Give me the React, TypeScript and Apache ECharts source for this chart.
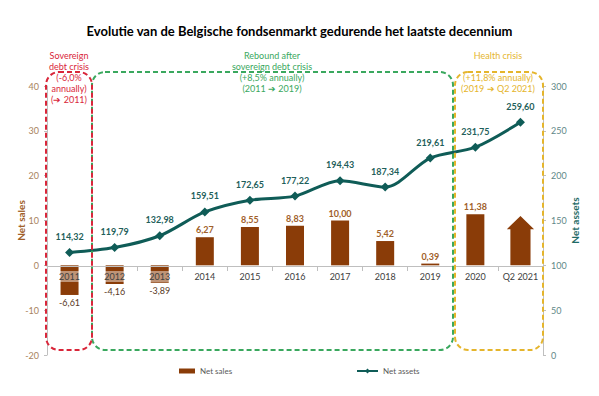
import React, { useEffect, useRef } from "react";
import * as echarts from "echarts";

const categories = ["2011", "2012", "2013", "2014", "2015", "2016", "2017", "2018", "2019", "2020", "Q2 2021"];
const netSales: (number | null)[] = [-6.61, -4.16, -3.89, 6.27, 8.55, 8.83, 10.0, 5.42, 0.39, 11.38, null];
const arrowSales: (number | null)[] = [null, null, null, null, null, null, null, null, null, null, 11.0];
const netAssets = [114.32, 119.79, 132.98, 159.51, 172.65, 177.22, 194.43, 187.34, 219.61, 231.75, 259.6];

const FONT = "Lato, 'Open Sans', sans-serif";
const fmt = (v: number) => v.toFixed(2).replace(".", ",");

export default function App() {
  const ref = useRef<HTMLDivElement>(null);
  useEffect(() => {
    if (!ref.current) return;
    const chart = echarts.init(ref.current, null, { renderer: "svg" });
    const brown = "#8a3c08";
    const teal = "#0f5c57";
    const red = "#d9263a";
    const green = "#3aa85e";
    const yellow = "#e5b52c";
    const boxStyle = (c: string) => ({ fill: "none", stroke: c, lineWidth: 2, lineDash: [5, 3] });
    const txt = (x: number, y: number, text: string, c: string) => ({
      type: "text",
      x,
      y,
      style: { text, fill: c, font: `9px ${FONT}`, textAlign: "center", textVerticalAlign: "top", lineHeight: 11 },
      z: 100,
    });
    chart.setOption({
      animation: false,
      textStyle: { fontFamily: FONT },
      title: {
        text: "Evolutie van de Belgische fondsenmarkt gedurende het laatste decennium",
        left: "center",
        top: 19,
        textStyle: { fontSize: 13, fontWeight: "bold", color: "#000", fontFamily: FONT },
      },
      grid: { left: 47, right: 56, top: 86, bottom: 41, containLabel: false },
      legend: [
        {
          data: ["Net sales"],
          left: 174,
          top: 362,
          itemWidth: 16,
          itemHeight: 5,
          itemGap: 2,
          textStyle: { fontSize: 8, color: "#595959", fontFamily: FONT },
          icon: "rect",
        },
        {
          data: ["Net assets"],
          left: 351,
          top: 362,
          itemWidth: 21,
          itemHeight: 6,
          textStyle: { fontSize: 8, color: "#595959", fontFamily: FONT },
        },
      ],
      xAxis: {
        type: "category",
        data: categories,
        position: "bottom",
        offset: -89,
        axisLine: { onZero: false, lineStyle: { color: "#bfbfbf" } },
        axisTick: { show: true, alignWithLabel: false, lineStyle: { color: "#bfbfbf" } },
        axisLabel: {
          interval: 0,
          color: "#404040",
          fontSize: 9,
          margin: 5,
          backgroundColor: "rgba(255,255,255,0.45)",
          padding: [1, 1],
          fontFamily: FONT,
        },
        z: 10,
      },
      yAxis: [
        {
          type: "value",
          min: -20,
          max: 40,
          interval: 10,
          name: "Net sales",
          nameLocation: "middle",
          nameGap: 21,
          nameMoveOverlap: false,
          nameRotate: 90,
          nameTextStyle: { color: "#a0602a", fontSize: 10, fontWeight: "bold", fontFamily: FONT },
          axisLine: { show: true, lineStyle: { color: "#bfbfbf" } },
          axisTick: { show: true, length: 3, lineStyle: { color: "#bfbfbf" } },
          axisLabel: { color: "#a8825c", fontSize: 9, margin: 8, fontFamily: FONT },
          splitLine: { show: false },
        },
        {
          type: "value",
          min: 0,
          max: 300,
          interval: 50,
          name: "Net assets",
          nameLocation: "middle",
          nameGap: 27,
          nameMoveOverlap: false,
          nameRotate: 90,
          nameTextStyle: { color: "#1f6b66", fontSize: 10, fontWeight: "bold", fontFamily: FONT },
          axisLine: { show: true, lineStyle: { color: "#bfbfbf" } },
          axisTick: { show: true, length: 3, lineStyle: { color: "#bfbfbf" } },
          axisLabel: { color: "#5f8787", fontSize: 9, margin: 8, fontFamily: FONT },
          splitLine: { show: false },
        },
      ],
      series: [
        {
          name: "Net sales",
          type: "bar",
          yAxisIndex: 0,
          barWidth: 18,
          itemStyle: { color: brown },
          data: netSales.map((v) =>
            v === null
              ? null
              : {
                  value: v,
                  label:
                    v < 0
                      ? { position: "bottom", fontWeight: "normal", color: "#5a3a26", distance: 3 }
                      : { position: "top", fontWeight: "bold", color: "#a0602a", distance: 3 },
                }
          ),
          label: {
            show: true,
            fontSize: 9,
            fontFamily: FONT,
            formatter: (p: any) => fmt(p.value),
          },
          z: 2,
        },
        {
          name: "Q2 2021 arrow",
          type: "pictorialBar",
          yAxisIndex: 0,
          barWidth: 27,
          symbol: "path://M0,13 L13.5,0 L27,13 L23.5,13 L23.5,49 L3.5,49 L3.5,13 Z",
          symbolSize: ["100%", "100%"],
          symbolPosition: "start",
          itemStyle: { color: brown },
          data: arrowSales,
          z: 2,
        },
        {
          name: "Net assets",
          type: "line",
          yAxisIndex: 1,
          data: netAssets,
          smooth: 0.3,
          symbol: "diamond",
          symbolSize: 9,
          lineStyle: { color: teal, width: 3 },
          itemStyle: { color: teal },
          label: {
            show: true,
            position: "top",
            distance: 7,
            fontSize: 9,
            fontWeight: "bold",
            color: "#1f5f5b",
            fontFamily: FONT,
            formatter: (p: any) => fmt(p.value),
          },
          z: 5,
        },
      ],
      graphic: [
        { type: "rect", shape: { x: 46, y: 72, width: 46, height: 278, r: 13 }, style: boxStyle(red), z: 50, silent: true },
        { type: "rect", shape: { x: 92, y: 72, width: 361, height: 278, r: 13 }, style: boxStyle(green), z: 49, silent: true },
        { type: "rect", shape: { x: 455, y: 72, width: 88, height: 278, r: 13 }, style: boxStyle(yellow), z: 49, silent: true },
        txt(69, 50, "Sovereign\ndebt crisis\n(-6,0%\nannually)\n(➔ 2011)", red),
        txt(272, 50, "Rebound after\nsovereign debt crisis\n(+8,5% annually)\n(2011 ➔ 2019)", green),
        txt(498, 50, "Health crisis", yellow),
        txt(498, 72, "(+11,8% annually)\n(2019 ➔ Q2 2021)", yellow),
      ],
    });
    return () => chart.dispose();
  }, []);
  return <div ref={ref} style={{ width: 599, height: 396, position: "absolute", left: 0, top: 0 }} />;
}
